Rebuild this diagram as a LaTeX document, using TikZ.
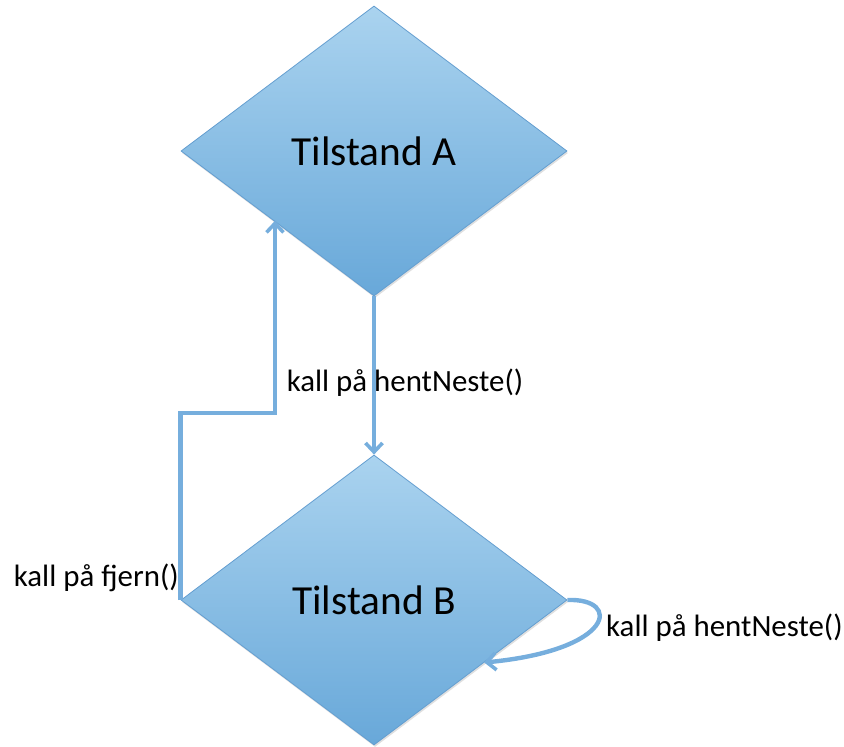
\documentclass[tikz,border=0pt]{standalone}
\usepackage{fontspec}
\setmainfont{Carlito}
\usetikzlibrary{shapes.geometric,arrows.meta,calc,shadows}
\definecolor{fillTop}{RGB}{170,211,239}
\definecolor{fillBot}{RGB}{104,168,217}
\definecolor{edgeC}{RGB}{100,158,208}
\definecolor{lineC}{RGB}{118,174,221}
\tikzset{
  state/.style={diamond, draw=edgeC, line width=0.8pt, top color=fillTop, bottom color=fillBot,
    minimum width=386bp, minimum height=290bp, inner sep=0pt, aspect=1.33,
    font=\fontsize{41.5}{48}\selectfont, text=black,
    drop shadow={opacity=0.25, shadow xshift=1bp, shadow yshift=-2bp}},
  conn/.style={draw=lineC, line width=4.4bp, -{Straight Barb[length=9bp,width=17bp,line width=3.6bp]}},
  lbl/.style={font=\fontsize{31}{36}\selectfont, text=black, inner sep=0pt}
}
\begin{document}
\begin{tikzpicture}[x=1bp,y=-1bp]
\useasboundingbox (0,0) rectangle (844,747);
\node[state] (A) at (374,151) {Tilstand A};
\node[state] (B) at (374,600) {Tilstand B};
% straight A -> B
\draw[conn] (A.south) -- (B.north);
\node[lbl] (l1) at (405,383) {kall på hentNeste()};
% B -> A via left
\coordinate (ta) at ($(A.west)!0.48!(A.south)$);
\coordinate (bend) at (275,413);
\draw[conn] (B.west) |- (bend) -- (bend |- ta);
\node[lbl, anchor=east] (l2) at (179,578) {kall på fjern()};
% self loop
\coordinate (tb) at ($(B.east)!0.43!(B.south)$);
\draw[conn] (B.east) .. controls (622,598) and (615,650) .. (tb);
\node[lbl, anchor=west] (l3) at (606,628) {kall på hentNeste()};
\end{tikzpicture}
\end{document}
